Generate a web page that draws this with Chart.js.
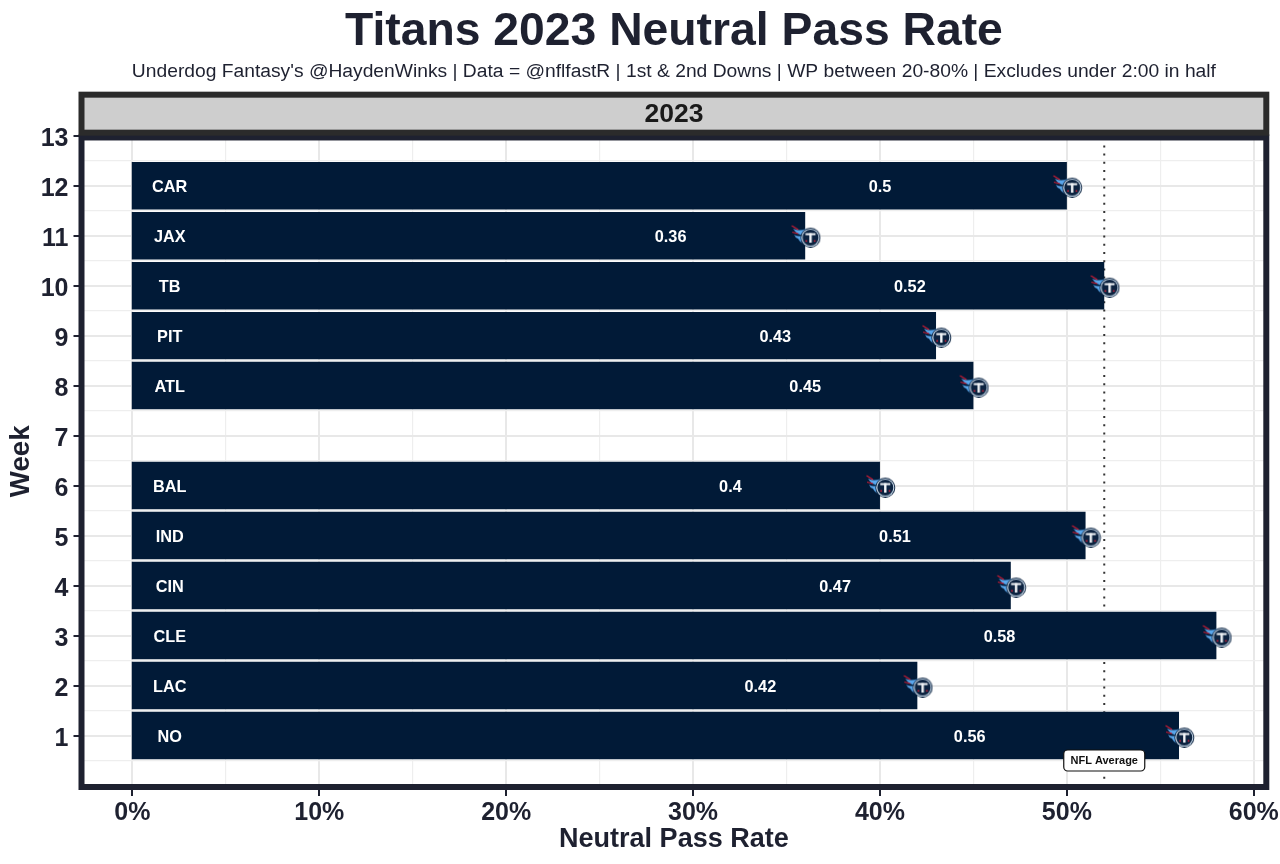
<!DOCTYPE html>
<html>
<head>
<meta charset="utf-8">
<title>Titans 2023 Neutral Pass Rate</title>
<script src="https://cdn.jsdelivr.net/npm/chart.js@4"></script>
<style>
  html, body { margin: 0; padding: 0; background: #ffffff; }
  canvas { display: block; }
</style>
</head>
<body>
<canvas id="myChart" width="1280" height="864"></canvas>
<script>
const weeks = [1, 2, 3, 4, 5, 6, 8, 9, 10, 11, 12];
const opponents = ["NO", "LAC", "CLE", "CIN", "IND", "BAL", "ATL", "PIT", "TB", "JAX", "CAR"];
const passRates = [56, 42, 58, 47, 51, 40, 45, 43, 52, 36, 50];
const nflAverage = 52;

const xMajorTicks = [0, 10, 20, 30, 40, 50, 60];
const xMinorTicks = [5, 15, 25, 35, 45, 55];
const yMajorTicks = [1, 2, 3, 4, 5, 6, 7, 8, 9, 10, 11, 12, 13];
const yMinorTicks = [0.5, 1.5, 2.5, 3.5, 4.5, 5.5, 6.5, 7.5, 8.5, 9.5, 10.5, 11.5, 12.5];

const fontFamily = '"Liberation Sans", Arial, sans-serif';
const inkColor = '#1e2130';
const barColor = '#011a37';
const frameWidth = 6;

const canvas = document.getElementById("myChart");
const ctx = canvas.getContext("2d");

// little team logo, handed to the library as a point style
function makeLogo() {
  const logo = document.createElement('canvas');
  logo.width = 32;
  logo.height = 24;
  const c = logo.getContext('2d');
  const cx = 21.3, cy = 14;

  // flames
  c.fillStyle = '#5aa7ec';
  c.beginPath();
  c.moveTo(4, 5);
  c.quadraticCurveTo(10, 8, 17, 5);
  c.lineTo(16, 12);
  c.quadraticCurveTo(8, 12, 4, 5);
  c.fill();
  c.beginPath();
  c.moveTo(5, 11);
  c.quadraticCurveTo(10, 14, 15, 11);
  c.lineTo(16, 21);
  c.quadraticCurveTo(11, 19, 9, 15);
  c.quadraticCurveTo(6, 14, 5, 11);
  c.fill();
  c.strokeStyle = '#d01c34';
  c.lineWidth = 1.1;
  c.beginPath();
  c.moveTo(2.5, 2);
  c.lineTo(9, 6);
  c.moveTo(3, 8.5);
  c.lineTo(9, 10);
  c.stroke();

  c.fillStyle = '#0c2340';
  c.beginPath();
  c.arc(cx, cy, 10, 0, Math.PI * 2);
  c.fill();
  c.fillStyle = '#d5e6f5';
  c.beginPath();
  c.arc(cx, cy, 9.1, 0, Math.PI * 2);
  c.fill();
  c.fillStyle = '#0c2340';
  c.beginPath();
  c.arc(cx, cy, 8, 0, Math.PI * 2);
  c.fill();

  // the T
  c.fillStyle = '#f2f5f8';
  c.fillRect(cx - 5, cy - 4.5, 10, 2);
  c.fillRect(cx - 1.2, cy - 4.5, 2.4, 9.5);

  c.fillStyle = '#d01c34';
  c.fillRect(cx - 5, cy + 2.5, 1.6, 1.6);
  c.fillRect(cx + 3.4, cy + 2.5, 1.6, 1.6);
  return logo;
}

const panelDecor = {
  id: 'panelDecor',
  beforeDraw(chart) {
    const c = chart.ctx;
    c.save();
    c.fillStyle = '#ffffff';
    c.fillRect(0, 0, chart.width, chart.height);
    c.restore();
  },
  afterDatasetsDraw(chart) {
    const c = chart.ctx;
    const area = chart.chartArea;
    const x = chart.scales.x;
    const y = chart.scales.y;

    c.save();
    // bar labels
    c.fillStyle = '#ffffff';
    c.font = 'bold 16.3px ' + fontFamily;
    c.textAlign = 'center';
    c.textBaseline = 'middle';
    weeks.forEach((week, i) => {
      const py = y.getPixelForValue(week) + 2;
      c.fillText(opponents[i], x.getPixelForValue(2), py);
      c.fillText(String(passRates[i] / 100), x.getPixelForValue(passRates[i] * 0.8), py);
    });

    // NFL Average box
    const bx = x.getPixelForValue(nflAverage);
    const by = y.getPixelForValue(0.5);
    c.beginPath();
    c.roundRect(bx - 40.5, by - 10.5, 81, 21, 4);
    c.fillStyle = '#ffffff';
    c.fill();
    c.strokeStyle = '#111111';
    c.lineWidth = 1.2;
    c.stroke();
    c.fillStyle = '#111111';
    c.font = 'bold 11px ' + fontFamily;
    c.fillText('NFL Average', bx, by + 0.5);

    // panel frame
    c.strokeStyle = inkColor;
    c.lineWidth = frameWidth;
    c.strokeRect(area.left, area.top + 1.8, area.right - area.left, area.bottom - area.top - 1.8);

    // facet strip
    c.fillStyle = '#cecece';
    c.fillRect(area.left, area.top - 41, area.right - area.left, 38);
    c.strokeStyle = '#2b2b2b';
    c.strokeRect(area.left, area.top - 41, area.right - area.left, 38);
    c.fillStyle = '#1a1a1a';
    c.font = 'bold 26.5px ' + fontFamily;
    c.fillText('2023', (area.left + area.right) / 2, area.top - 20.5);
    c.restore();
  }
};

const chart = new Chart(ctx, {
  type: 'bar',
  data: {
    datasets: [
      {
        type: 'scatter',
        indexAxis: 'x',
        label: 'NFL Average',
        data: [{ x: nflAverage, y: -0.03 }, { x: nflAverage, y: 13 }],
        showLine: true,
        borderColor: '#333333',
        borderWidth: 2,
        borderDash: [2, 6.2],
        pointRadius: 0,
        order: 3,
      },
      {
        label: 'Neutral Pass Rate',
        data: weeks.map((week, i) => ({ x: passRates[i], y: week })),
        backgroundColor: barColor,
        borderWidth: 0,
        base: -0.03,
        barPercentage: 0.95,
        categoryPercentage: 1,
        order: 2,
      },
      {
        type: 'scatter',
        indexAxis: 'x',
        label: 'Logo',
        data: weeks.map((week, i) => ({ x: passRates[i], y: week })),
        pointStyle: makeLogo(),
        order: 1,
      },
    ],
  },
  options: {
    indexAxis: 'y',
    responsive: false,
    animation: false,
    devicePixelRatio: 1,
    layout: { padding: { left: 0, right: 13.7, top: 0, bottom: 0 } },
    scales: {
      x: {
        type: 'linear',
        min: -2.72,
        max: 60.67,
        afterBuildTicks: function (scale) {
          scale.ticks = xMajorTicks.concat(xMinorTicks).map(v => ({ value: v }));
        },
        afterFit: function (scale) { scale.height = 77; },
        border: { display: false },
        grid: {
          color: ctx => xMajorTicks.includes(ctx.tick.value) ? '#e8e8e8' : '#eeeeee',
          lineWidth: ctx => xMajorTicks.includes(ctx.tick.value) ? 2 : 1.2,
          tickColor: ctx => xMajorTicks.includes(ctx.tick.value) ? inkColor : 'rgba(0,0,0,0)',
          tickWidth: 2,
          tickLength: 9,
        },
        ticks: {
          autoSkip: false,
          maxRotation: 0,
          padding: 2,
          color: inkColor,
          font: { family: fontFamily, size: 25, weight: 'bold' },
          callback: v => xMajorTicks.includes(v) ? v + '%' : '',
        },
        title: {
          display: true,
          text: 'Neutral Pass Rate',
          color: inkColor,
          font: { family: fontFamily, size: 27, weight: 'bold' },
          padding: { top: 0, bottom: 8.5 },
        },
      },
      y: {
        type: 'linear',
        min: -0.03,
        max: 13,
        offset: false,
        afterBuildTicks: function (scale) {
          scale.ticks = yMajorTicks.concat(yMinorTicks).map(v => ({ value: v }));
        },
        afterFit: function (scale) { scale.width = 81.5; },
        border: { display: false },
        grid: {
          offset: false,
          color: ctx => yMajorTicks.includes(ctx.tick.value) ? '#e8e8e8' : '#eeeeee',
          lineWidth: ctx => yMajorTicks.includes(ctx.tick.value) ? 2 : 1.2,
          tickColor: ctx => yMajorTicks.includes(ctx.tick.value) ? inkColor : 'rgba(0,0,0,0)',
          tickWidth: 2,
          tickLength: 8,
        },
        ticks: {
          autoSkip: false,
          padding: 5,
          labelOffset: 3.5,
          color: inkColor,
          font: { family: fontFamily, size: 25, weight: 'bold' },
          callback: v => yMajorTicks.includes(v) ? String(v) : '',
        },
        title: {
          display: true,
          text: 'Week',
          color: inkColor,
          font: { family: fontFamily, size: 27.7, weight: 'bold' },
          padding: { top: 5, bottom: 0 },
        },
      },
    },
    plugins: {
      legend: { display: false },
      tooltip: { enabled: false },
      title: {
        display: true,
        fullSize: false,
        text: 'Titans 2023 Neutral Pass Rate',
        color: inkColor,
        font: { family: fontFamily, size: 46.3, weight: 'bold' },
        padding: { top: 4, bottom: 1 },
      },
      subtitle: {
        display: true,
        fullSize: false,
        text: "Underdog Fantasy's @HaydenWinks | Data = @nflfastR | 1st & 2nd Downs | WP between 20-80% | Excludes under 2:00 in half",
        color: inkColor,
        font: { family: fontFamily, size: 19.26, weight: 'normal' },
        padding: { top: 0, bottom: 52 },
      },
    },
  },
  plugins: [panelDecor],
});
</script>
</body>
</html>
